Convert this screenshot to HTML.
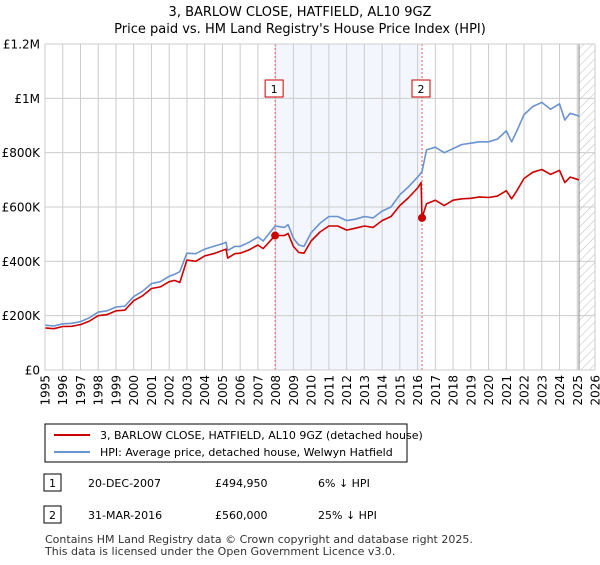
<!DOCTYPE html>
<html><head><meta charset="utf-8"><style>
body{margin:0;background:#fff;font-family:"Liberation Sans","DejaVu Sans",sans-serif;}
svg text{font-family:"DejaVu Sans","Liberation Sans",sans-serif;}
</style></head><body>
<svg id="c" width="600" height="560" xmlns="http://www.w3.org/2000/svg">
<text x="300" y="16" text-anchor="middle" font-size="13">3, BARLOW CLOSE, HATFIELD, AL10 9GZ</text>
<text x="300" y="33" text-anchor="middle" font-size="13">Price paid vs. HM Land Registry's House Price Index (HPI)</text>
<defs><pattern id="h" width="6" height="6" patternUnits="userSpaceOnUse" patternTransform="rotate(45)"><line x1="0" y1="0" x2="0" y2="6" stroke="#bbb" stroke-width="1"/></pattern></defs>
<g id="plot"></g>
<rect x="45" y="424" width="362" height="38" fill="#fff" stroke="#000"/>
<line x1="54" y1="435" x2="90" y2="435" stroke="#cc0000" stroke-width="2"/>
<text x="100" y="439" font-size="11">3, BARLOW CLOSE, HATFIELD, AL10 9GZ (detached house)</text>
<line x1="54" y1="452" x2="90" y2="452" stroke="#6a93d0" stroke-width="2"/>
<text x="100" y="456" font-size="11">HPI: Average price, detached house, Welwyn Hatfield</text>
<rect x="44" y="474" width="17" height="17" fill="#fff" stroke="#000"/>
<text x="52.5" y="487" font-size="11" text-anchor="middle">1</text>
<text x="88" y="487" font-size="11">20-DEC-2007</text>
<text x="215" y="487" font-size="11">£494,950</text>
<text x="318" y="487" font-size="11">6% ↓ HPI</text>
<rect x="44" y="506" width="17" height="17" fill="#fff" stroke="#000"/>
<text x="52.5" y="519" font-size="11" text-anchor="middle">2</text>
<text x="88" y="519" font-size="11">31-MAR-2016</text>
<text x="215" y="519" font-size="11">£560,000</text>
<text x="318" y="519" font-size="11">25% ↓ HPI</text>
<text x="45" y="543" font-size="11" fill="#333">Contains HM Land Registry data © Crown copyright and database right 2025.</text>
<text x="45" y="555" font-size="11" fill="#333">This data is licensed under the Open Government Licence v3.0.</text>
</svg>
<script>
const yTicks=[0,200000,400000,600000,800000,1000000,1200000];
const yLabels=["£0","£200K","£400K","£600K","£800K","£1M","£1.2M"];
const xYears=[1995,1996,1997,1998,1999,2000,2001,2002,2003,2004,2005,2006,2007,2008,2009,2010,2011,2012,2013,2014,2015,2016,2017,2018,2019,2020,2021,2022,2023,2024,2025,2026];
const hpiDates=[1995,1995.5,1996,1996.5,1997,1997.5,1998,1998.5,1999,1999.5,2000,2000.5,2001,2001.5,2002,2002.3,2002.6,2003,2003.5,2004,2004.5,2005,2005.2,2005.3,2005.7,2006,2006.5,2007,2007.3,2007.97,2008.5,2008.7,2009,2009.3,2009.6,2010,2010.5,2011,2011.5,2012,2012.5,2013,2013.5,2014,2014.5,2015,2015.5,2016,2016.25,2016.5,2017,2017.5,2018,2018.5,2019,2019.5,2020,2020.5,2021,2021.3,2021.6,2022,2022.5,2023,2023.5,2024,2024.3,2024.6,2025.1];
const hpiValues=[165000,162000,170000,172000,178000,192000,213000,218000,232000,235000,270000,290000,318000,325000,345000,352000,362000,430000,428000,445000,455000,465000,470000,440000,455000,455000,470000,490000,475000,530000,525000,535000,485000,460000,455000,505000,540000,565000,565000,550000,555000,565000,560000,585000,600000,645000,675000,710000,730000,810000,820000,800000,815000,830000,835000,840000,840000,850000,880000,840000,880000,940000,970000,985000,960000,980000,920000,945000,935000];
const ppDates=[1995,1995.5,1996,1996.5,1997,1997.5,1998,1998.5,1999,1999.5,2000,2000.5,2001,2001.5,2002,2002.3,2002.6,2003,2003.5,2004,2004.5,2005,2005.2,2005.3,2005.7,2006,2006.5,2007,2007.3,2007.97,2008.5,2008.7,2009,2009.3,2009.6,2010,2010.5,2011,2011.5,2012,2012.5,2013,2013.5,2014,2014.5,2015,2015.5,2016,2016.2,2016.25,2016.5,2017,2017.5,2018,2018.5,2019,2019.5,2020,2020.5,2021,2021.3,2021.6,2022,2022.5,2023,2023.5,2024,2024.3,2024.6,2025.1];
const ppValues=[155000,152000,160000,161000,167000,180000,200000,204000,218000,220000,255000,273000,300000,306000,325000,330000,322000,405000,400000,420000,428000,440000,445000,412000,428000,430000,442000,460000,447000,494950,495000,503000,455000,433000,430000,475000,508000,530000,530000,515000,522000,530000,525000,550000,565000,605000,635000,670000,690000,560000,612000,625000,605000,625000,630000,632000,637000,635000,640000,660000,630000,660000,705000,728000,738000,720000,735000,690000,710000,700000];
const saleDates=[2007.97,2016.25];
const saleValues=[494950,560000];
const saleLabels=["1","2"];
const L=45,R=595,T=44,B=370,X0=1995,X1=2026,YMAX=1200000;
const sx=d=>L+(d-X0)/(X1-X0)*(R-L);
const sy=v=>B-v/YMAX*(B-T);
const NS="http://www.w3.org/2000/svg";
const g=document.getElementById('plot');
function mk(t,a){const e=document.createElementNS(NS,t);for(const k in a)e.setAttribute(k,a[k]);g.appendChild(e);return e;}
let e;
e=mk('rect',{x:sx(saleDates[0]),y:T,width:sx(saleDates[1])-sx(saleDates[0]),height:B-T,fill:'#eef2fc',opacity:0.7});


e=mk('rect',{x:sx(2025.1),y:T,width:R-sx(2025.1),height:B-T,fill:'url(#h)'});


xYears.forEach(y=>{
 e=mk('line',{x1:sx(y),x2:sx(y),y1:T,y2:B,stroke:'#ccc','stroke-width':1});
 
 
 e=mk('text',{x:0,y:0,'font-size':12,'text-anchor':'end',transform:`translate(${sx(y)+4.5},375) rotate(-90)`});
 e.textContent=y;
 
 
});
yTicks.forEach((v,i)=>{
 e=mk('line',{x1:L,x2:R,y1:sy(v),y2:sy(v),stroke:'#ccc','stroke-width':1});
 
 
 e=mk('text',{x:40,y:sy(v)+4.5,'font-size':12,'text-anchor':'end'});
 e.textContent=yLabels[i];
 
 
});
e=mk('line',{x1:sx(2025.1),x2:sx(2025.1),y1:T,y2:B,stroke:'#888','stroke-width':1});


saleDates.forEach((d,i)=>{
 e=mk('line',{x1:sx(d),x2:sx(d),y1:T,y2:B,stroke:'#f06060','stroke-width':1,'stroke-dasharray':'2,2'});
 
 
});
function line(ds,vs,c,name){
 const p=ds.map((d,i)=>(i?'L':'M')+sx(d).toFixed(1)+','+sy(vs[i]).toFixed(1)).join('');
 const el=mk('path',{d:p,fill:'none',stroke:c,'stroke-width':1.6,'stroke-linejoin':'round'});
 
 
}
line(hpiDates,hpiValues,'#6a93d0','hpi-line');
line(ppDates,ppValues,'#cc0000','property-price-line');
saleDates.forEach((d,i)=>{
 e=mk('circle',{cx:sx(d),cy:sy(saleValues[i]),r:4,fill:'#cc0000'});
 
 
 const bx=sx(d)-9;
 e=mk('rect',{x:bx-1,y:80,width:18,height:17,fill:'#fff',stroke:'#cc0000'});
 
 
 e=mk('text',{x:bx+8,y:93,'font-size':11,'text-anchor':'middle'});
 e.textContent=saleLabels[i];
 
 
});
e=mk('rect',{x:L,y:T,width:R-L,height:B-T,fill:'none',stroke:'#ccc'});


</script>
</body></html>
